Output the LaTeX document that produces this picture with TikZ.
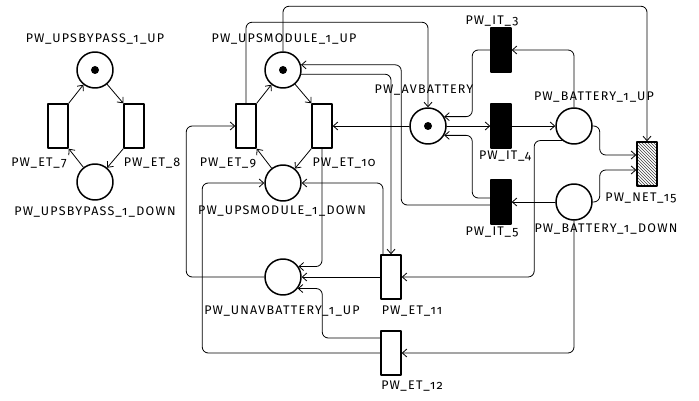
\documentclass[tikz,border=0pt]{standalone}
\usepackage{fontspec}
\newfontfamily\netfont[Numbers=OldStyle, LetterSpace=10]{Fira Sans}
\usetikzlibrary{arrows.meta}
\usetikzlibrary{patterns}

\begin{document}
\begin{tikzpicture}[x=1pt, y=-1pt, >={Straight Barb[length=4.5pt,width=8pt]}, line cap=round, line join=round]

	\tikzset{
		place/.style={circle, draw=black, line width=1.5pt, minimum size=36pt, inner sep=0pt},
		trans/.style={rectangle, draw=black, line width=1.5pt, minimum width=20pt, minimum height=44pt, inner sep=0pt},
		imm/.style={trans, fill=black},
		hatched/.style={trans, pattern=north west lines, pattern color=black!75},
		token/.style={circle, fill=black, minimum size=8pt, inner sep=0pt},
		arc/.style={->, line width=0.8pt, rounded corners=6pt},
		lab/.style={font=\netfont\fontsize{12.5}{15}\selectfont, inner sep=0pt},
	}

	\useasboundingbox (0,0) rectangle (699,401);

	% --- UPS bypass (left)
	\node[place] (bypassUp) at (95,70) {};
	\node[token] at (bypassUp) {};
	\node[place] (bypassDown) at (95,182) {};
	\node[trans] (et7) at (58,126) {};
	\node[trans] (et8) at (134,126) {};

	\node[lab] (lBypassUp) at (95,39) {PW\_UPSBYPASS\_1\_UP};
	\node[lab] (lBypassDown) at (95,212) {PW\_UPSBYPASS\_1\_DOWN};
	\node[lab] (lEt7) at (39,163) {PW\_ET\_7};
	\node[lab] (lEt8) at (152,163) {PW\_ET\_8};

	\draw[arc] (et7.north east) -- (bypassUp);
	\draw[arc] (bypassUp) -- (et8.north west);
	\draw[arc] (et8.south west) -- (bypassDown);
	\draw[arc] (bypassDown) -- (et7.south east);

	% --- UPS module
	\node[place] (moduleUp) at (283,70) {};
	\node[token] at (moduleUp) {};
	\node[place] (moduleDown) at (283,183) {};
	\node[trans] (et9) at (246,126) {};
	\node[trans] (et10) at (322,126) {};
	\node[place] (unavBattery) at (283,277) {};
	\node[trans] (et11) at (391,277) {};
	\node[trans] (et12) at (391,353) {};

	\node[lab] (lModuleUp) at (284,39) {PW\_UPSMODULE\_1\_UP};
	\node[lab] (lModuleDown) at (282,211) {PW\_UPSMODULE\_1\_DOWN};
	\node[lab] (lEt9) at (228,163) {PW\_ET\_9};
	\node[lab] (lEt10) at (344,163) {PW\_ET\_10};
	\node[lab] (lUnav) at (282,311) {PW\_UNAVBATTERY\_1\_UP};
	\node[lab] (lEt11) at (412,311) {PW\_ET\_11};
	\node[lab] (lEt12) at (412,386) {PW\_ET\_12};

	% --- battery
	\node[place] (avBattery) at (428,126) {};
	\node[token] at (avBattery) {};
	\node[imm] (it3) at (501,50) {};
	\node[imm] (it4) at (501,126) {};
	\node[imm] (it5) at (501,202) {};
	\node[place] (batteryUp) at (574,126) {};
	\node[place] (batteryDown) at (574,202) {};
	\node[hatched] (net15) at (647,164) {};

	\node[lab] (lAv) at (424,90) {PW\_AVBATTERY};
	\node[lab] (lIt3) at (492,21) {PW\_IT\_3};
	\node[lab] (lIt4) at (505,156) {PW\_IT\_4};
	\node[lab] (lIt5) at (492,232) {PW\_IT\_5};
	\node[lab] (lBatUp) at (594,97) {PW\_BATTERY\_1\_UP};
	\node[lab] (lBatDown) at (606,229) {PW\_BATTERY\_1\_DOWN};
	\node[lab] (lNet) at (641,198) {PW\_NET\_15};

	% --- module arcs
	\draw[arc] (et9.north east) -- (moduleUp);
	\draw[arc] (moduleUp) -- (et10.north west);
	\draw[arc] (et10.south west) -- (moduleDown);
	\draw[arc] (moduleDown) -- (et9.south east);

	% --- long arcs
	\draw[arc] (et9.north) -- ++(0,-81) -| (avBattery.north);
	\draw[arc] (moduleUp.north) -- ++(0,-45) -| (net15.north);
	\draw[arc] ([yshift=-3pt]it5.west) -- ++(-89,0) |- (moduleUp.16);
	\draw[arc] (moduleUp.-13) -| (et11.north);
	\draw[arc] (avBattery.west) -- (et10.east);
	\draw[arc] (unavBattery.west) -- ++(-78,0) |- (et9.west);
	\draw[arc] (et12.west) -- ++(-178,0) |- (moduleDown.west);
	\draw[arc] ([xshift=-8pt]et11.north) |- (moduleDown.east);
	\draw[arc] (et10.south) |- (unavBattery.34);
	\draw[arc] ([yshift=15pt]et12.west) -- ++(-58,0) |- (unavBattery.-38);
	\draw[arc] (et11.west) -- (unavBattery.east);
	\draw[arc] (batteryUp.231) -- ++(-28,0) |- (et11.east);
	\draw[arc] (batteryDown.south) |- (et12.east);

	% --- battery arcs
	\draw[arc] (batteryDown.west) -- (it5.east);
	\draw[arc] ([yshift=4pt]it5.west) -- ++(-18,0) |- (avBattery.-30);
	\draw[arc] (batteryUp.north) |- (it3.east);
	\draw[arc] (it3.west) -- ++(-18,0) |- (avBattery.30);
	\draw[arc] (avBattery.east) -- (it4.west);
	\draw[arc] (it4.east) -- (batteryUp.west);
	\draw[arc] (batteryUp.east) -- ++(7,0) |- ([yshift=9pt]net15.west);
	\draw[arc] (batteryDown.east) -- ++(7,0) |- ([yshift=-6pt]net15.west);

\end{tikzpicture}
\end{document}
